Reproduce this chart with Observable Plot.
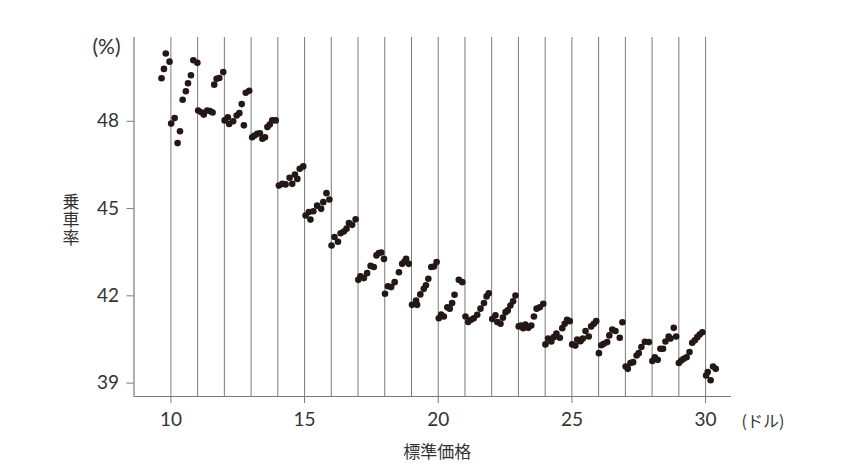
<!DOCTYPE html>
<html>
<head>
<meta charset="utf-8">
<script src="https://cdn.jsdelivr.net/npm/d3@7"></script>
<script src="https://cdn.jsdelivr.net/npm/@observablehq/plot@0.6"></script>
<style>
  html, body { margin: 0; padding: 0; background: #fff; }
  #chart { width: 850px; height: 475px; }
</style>
</head>
<body>
<div id="chart"></div>
<script>
// Standard price (dollars)
const price = [
  9.65, 9.74, 9.81, 9.95,
  10.01, 10.14, 10.25, 10.34, 10.44, 10.56, 10.64, 10.75, 10.84, 10.99,
  11.02, 11.14, 11.23, 11.36, 11.46, 11.56, 11.62, 11.71, 11.81, 11.96,
  12.01, 12.13, 12.18, 12.33, 12.46, 12.56, 12.65, 12.73, 12.80, 12.93,
  13.04, 13.13, 13.23, 13.33, 13.42, 13.52, 13.61, 13.70, 13.79, 13.92,
  14.04, 14.17, 14.29, 14.44, 14.54, 14.64, 14.73, 14.82, 14.95,
  15.04, 15.16, 15.22, 15.33, 15.47, 15.62, 15.70, 15.82, 15.93,
  16.01, 16.12, 16.25, 16.35, 16.47, 16.57, 16.66, 16.78, 16.91,
  17.01, 17.09, 17.22, 17.34, 17.47, 17.59, 17.69, 17.78, 17.87, 17.97,
  18.01, 18.12, 18.24, 18.37, 18.53, 18.65, 18.74, 18.80, 18.90,
  19.02, 19.17, 19.21, 19.33, 19.46, 19.54, 19.63, 19.74, 19.84, 19.94,
  20.02, 20.11, 20.21, 20.34, 20.43, 20.52, 20.61, 20.77, 20.90,
  21.02, 21.12, 21.23, 21.33, 21.46, 21.58, 21.71, 21.81, 21.89,
  22.02, 22.14, 22.21, 22.33, 22.42, 22.52, 22.60, 22.70, 22.80, 22.89,
  23.01, 23.09, 23.18, 23.26, 23.37, 23.48, 23.58, 23.68, 23.80, 23.93,
  24.01, 24.11, 24.23, 24.32, 24.42, 24.55, 24.64, 24.73, 24.82, 24.92,
  25.01, 25.13, 25.20, 25.32, 25.41, 25.51, 25.63, 25.72, 25.82, 25.91,
  26.01, 26.10, 26.19, 26.32, 26.40, 26.51, 26.63, 26.79, 26.89,
  27.01, 27.09, 27.19, 27.29, 27.42, 27.50, 27.60, 27.73, 27.88,
  28.01, 28.10, 28.21, 28.31, 28.41, 28.50, 28.62, 28.69, 28.81, 28.90,
  29.00, 29.09, 29.18, 29.29, 29.40, 29.50, 29.60, 29.69, 29.78, 29.88,
  30.02, 30.08, 30.19, 30.28, 30.38
];
// Load factor (%)
const rate = [
  49.48, 49.80, 50.33, 50.05,
  47.92, 48.11, 47.25, 47.66, 48.74, 49.03, 49.31, 49.58, 50.10, 50.01,
  48.37, 48.31, 48.23, 48.37, 48.35, 48.30, 49.26, 49.46, 49.49, 49.69,
  48.03, 48.14, 47.91, 48.00, 48.20, 48.28, 48.59, 47.86, 48.98, 49.05,
  47.45, 47.51, 47.57, 47.59, 47.40, 47.45, 47.80, 47.89, 48.03, 48.03,
  45.79, 45.85, 45.83, 46.06, 45.85, 46.17, 46.02, 46.37, 46.45,
  44.76, 44.88, 44.62, 44.91, 45.10, 44.99, 45.22, 45.53, 45.31,
  43.73, 44.02, 43.86, 44.15, 44.21, 44.31, 44.50, 44.44, 44.63,
  42.55, 42.67, 42.61, 42.78, 43.03, 42.99, 43.39, 43.47, 43.49, 43.27,
  42.07, 42.33, 42.30, 42.47, 42.81, 43.10, 43.18, 43.27, 43.10,
  41.69, 41.84, 41.69, 42.05, 42.24, 42.36, 42.59, 42.99, 43.01, 43.16,
  41.23, 41.36, 41.29, 41.61, 41.56, 41.75, 42.04, 42.55, 42.47,
  41.29, 41.10, 41.18, 41.23, 41.35, 41.56, 41.75, 41.98, 42.09,
  41.20, 41.33, 41.10, 41.04, 41.25, 41.44, 41.50, 41.67, 41.81, 42.01,
  40.95, 40.98, 40.89, 41.01, 40.90, 40.98, 41.29, 41.56, 41.61, 41.73,
  40.33, 40.53, 40.43, 40.58, 40.70, 40.56, 40.89, 41.04, 41.18, 41.13,
  40.33, 40.29, 40.50, 40.44, 40.53, 40.79, 40.60, 40.95, 41.04, 41.13,
  40.03, 40.30, 40.35, 40.41, 40.64, 40.84, 40.79, 40.56, 41.09,
  39.57, 39.49, 39.69, 39.72, 39.95, 40.03, 40.24, 40.42, 40.41,
  39.76, 39.89, 39.80, 40.18, 40.18, 40.43, 40.60, 40.53, 40.90, 40.60,
  39.69, 39.78, 39.84, 39.89, 40.07, 40.39, 40.47, 40.58, 40.67, 40.75,
  39.26, 39.38, 39.10, 39.57, 39.49
];
const gridPrices = [10, 11, 12, 13, 14, 15, 16, 17, 18, 19, 20, 21, 22, 23, 24, 25, 26, 27, 28, 29, 30];
const xTicks = [10, 15, 20, 25, 30];
const yTicks = [39, 42, 45, 48];
const xDomain = [8.62, 30.97];
const yDomain = [38.54, 50.88];
const yUnit = "(%)";
const xUnit = "(ドル)";
const xTitle = "標準価格";
const yTitle = "乗車率";

const data = price.map((p, i) => ({price: p, rate: rate[i]}));

const numFont = "Lato, 'Noto Sans', sans-serif";
const jpFont = "'Noto Sans CJK JP', sans-serif";
const ink = "#231815";
const textColor = "#333";
const lineColor = "#7a7a7a";

const chart = Plot.plot({
  width: 850,
  height: 475,
  marginLeft: 133.5,
  marginRight: 119,
  marginTop: 37,
  marginBottom: 79,
  style: {fontFamily: numFont, color: textColor, background: "#fff"},
  x: {domain: xDomain},
  y: {domain: yDomain},
  marks: [
    Plot.ruleX(gridPrices, {stroke: lineColor, strokeWidth: 1}),
    Plot.ruleX([xDomain[0]], {stroke: lineColor, strokeWidth: 1.2}),
    Plot.ruleY([yDomain[0]], {stroke: lineColor, strokeWidth: 1.2}),
    Plot.axisY(yTicks, {tickSize: 7, tickPadding: 8, fontSize: 19, label: null, stroke: lineColor, fill: textColor}),
    Plot.axisX(xTicks, {tickSize: 7, tickPadding: 9, fontSize: 19, label: null, stroke: lineColor, fill: textColor}),
    Plot.dot(data, {x: "price", y: "rate", r: 3.3, fill: ink, stroke: null})
  ]
});

document.getElementById("chart").appendChild(chart);

// Extra labels placed relative to the scales
const svg = d3.select(chart);
const xs = chart.scale("x");
const ys = chart.scale("y");
const x0 = xs.apply(xDomain[0]);
const x1 = xs.apply(xDomain[1]);
const yTop = ys.apply(yDomain[1]);
const yBot = ys.apply(yDomain[0]);

svg.append("text")
  .attr("x", x0 - 27)
  .attr("y", yTop + 10)
  .attr("dy", "0.35em")
  .attr("text-anchor", "middle")
  .attr("font-family", numFont)
  .attr("font-size", 21)
  .attr("fill", textColor)
  .text(yUnit);

svg.append("text")
  .attr("x", x1 + 32)
  .attr("y", yBot + 25)
  .attr("dy", "0.35em")
  .attr("text-anchor", "middle")
  .attr("font-family", jpFont)
  .attr("font-size", 16)
  .attr("fill", textColor)
  .text(xUnit);

svg.append("text")
  .attr("x", (x0 + x1) / 2 + 5)
  .attr("y", yBot + 56)
  .attr("dy", "0.35em")
  .attr("text-anchor", "middle")
  .attr("font-family", jpFont)
  .attr("font-size", 17)
  .attr("fill", textColor)
  .text(xTitle);

svg.append("text")
  .attr("x", 71)
  .attr("y", (yTop + yBot) / 2 + 4)
  .attr("text-anchor", "middle")
  .attr("font-family", jpFont)
  .attr("font-size", 17)
  .attr("letter-spacing", 1)
  .attr("fill", textColor)
  .style("writing-mode", "vertical-rl")
  .text(yTitle);
</script>
</body>
</html>
